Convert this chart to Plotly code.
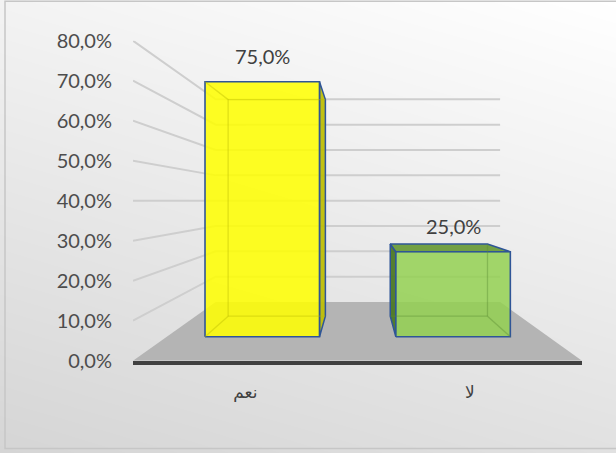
import numpy as np
import plotly.graph_objects as go

# ---- data -------------------------------------------------------------
categories = ["نعم", "لا"]
shares = [0.75, 0.25]
y_ticks = [0.0, 0.1, 0.2, 0.3, 0.4, 0.5, 0.6, 0.7, 0.8]

# ---- geometry of the pseudo-3D view ------------------------------------
W, H = 616, 453
VX, VY = 0.505, 0.40          # vanishing point (category units, share units)
K_BAR_FRONT = 0.85            # perspective scale of the bar front faces
K_BAR_BACK = 0.722            # perspective scale of the bar back faces
K_WALL = 0.6334               # perspective scale of the back wall
HALF_W = 0.30                 # half bar width in category units
X_MIN, X_MAX = -0.5, 1.5
Y_MAX = 0.8

# pixel box of the front plane (axis plane)
PX_L, PX_R = 133, 582
PY_TOP, PY_BOT = 40.7, 360.7

bar_styles = [
    dict(front="rgba(255,255,0,0.86)", side="rgba(190,190,8,0.96)",
         top="rgba(205,205,20,0.96)", inner="rgba(185,185,0,0.40)"),
    dict(front="rgba(146,208,80,0.84)", side="rgba(78,122,40,0.96)",
         top="rgba(108,156,60,0.96)", inner="rgba(90,140,50,0.40)"),
]
OUTLINE = "#2F5597"
GRID = "#CECECE"


def proj(x, y, k):
    return VX + (x - VX) * k, VY + (y - VY) * k


def polygon(points, fill, line_color="rgba(0,0,0,0)", width=0.0):
    xs = [p[0] for p in points] + [points[0][0]]
    ys = [p[1] for p in points] + [points[0][1]]
    return go.Scatter(x=xs, y=ys, mode="lines", fill="toself", fillcolor=fill,
                      line=dict(color=line_color, width=width),
                      xaxis="x2", yaxis="y2", hoverinfo="skip", showlegend=False)


def polyline(points, color, width):
    return go.Scatter(x=[p[0] for p in points], y=[p[1] for p in points],
                      mode="lines", line=dict(color=color, width=width),
                      xaxis="x2", yaxis="y2", hoverinfo="skip", showlegend=False)


fig = go.Figure()

# ---- background gradient (light grey bottom-left to white top-right) ---
gx = np.linspace(0, 1, 21)
gy = np.linspace(0, 1, 21)
GX, GY = np.meshgrid(gx, gy)
shade = 255 - 30 * (1 - GY) - 12 * (1 - GX)
fig.add_trace(go.Heatmap(x=gx, y=gy, z=shade, zmin=200, zmax=255,
                         colorscale=[[0, "rgb(200,200,200)"], [1, "rgb(255,255,255)"]],
                         zsmooth="best", showscale=False, hoverinfo="skip",
                         xaxis="x", yaxis="y"))

# ---- side wall + back wall gridlines ----------------------------------
for v in y_ticks[1:]:
    pts = [proj(X_MIN, v, 1.0), proj(X_MIN, v, K_WALL), proj(X_MAX, v, K_WALL)]
    fig.add_trace(polyline(pts, GRID, 2.0))

# ---- floor --------------------------------------------------------------
floor = [proj(X_MIN, 0, 1.0), proj(X_MAX, 0, 1.0),
         proj(X_MAX, 0, K_WALL), proj(X_MIN, 0, K_WALL)]
fig.add_trace(polygon(floor, "#B4B4B4"))

# ---- bars ----------------------------------------------------------------
for i, (cat, v) in enumerate(zip(categories, shares)):
    st = bar_styles[i]
    x0, x1 = i - HALF_W, i + HALF_W
    c = {
        "FBL": proj(x0, 0, K_BAR_FRONT), "FBR": proj(x1, 0, K_BAR_FRONT),
        "FTL": proj(x0, v, K_BAR_FRONT), "FTR": proj(x1, v, K_BAR_FRONT),
        "BBL": proj(x0, 0, K_BAR_BACK), "BBR": proj(x1, 0, K_BAR_BACK),
        "BTL": proj(x0, v, K_BAR_BACK), "BTR": proj(x1, v, K_BAR_BACK),
    }
    faces = {"front": ["FBL", "FBR", "FTR", "FTL"]}
    if x1 < VX:
        faces["side"] = ["FBR", "BBR", "BTR", "FTR"]
    elif x0 > VX:
        faces["side"] = ["FBL", "BBL", "BTL", "FTL"]
    if v < VY:
        faces["top"] = ["FTL", "FTR", "BTR", "BTL"]

    edges = [("FBL", "FBR"), ("FTL", "FTR"), ("FBL", "FTL"), ("FBR", "FTR"),
             ("BBL", "BBR"), ("BTL", "BTR"), ("BBL", "BTL"), ("BBR", "BTR"),
             ("FBL", "BBL"), ("FBR", "BBR"), ("FTL", "BTL"), ("FTR", "BTR")]

    def on_face(e):
        for f in faces.values():
            n = len(f)
            for j in range(n):
                if {f[j], f[(j + 1) % n]} == set(e):
                    return True
        return False

    # faces seen at an angle
    for name in ("side", "top"):
        if name in faces:
            fig.add_trace(polygon([c[k] for k in faces[name]], st[name], OUTLINE, 1.5))
    # front face
    fig.add_trace(polygon([c[k] for k in faces["front"]], st["front"], OUTLINE, 1.6))
    # edges behind the translucent front face
    for e in edges:
        if not on_face(e):
            fig.add_trace(polyline([c[e[0]], c[e[1]]], st["inner"], 1.3))
    # value label
    lx, ly = proj(i, v, K_BAR_FRONT)
    fig.add_annotation(x=lx, y=ly, xref="x2", yref="y2", text=f"{v:.1%}".replace(".", ","),
                       showarrow=False, yanchor="middle", yshift=26,
                       font=dict(family="Lato, Open Sans, sans-serif", size=20, color="#404040"))

# ---- outer border -------------------------------------------------------
fig.add_shape(type="rect", xref="paper", yref="paper",
              x0=5 / W, x1=1.02, y0=(H - 448.5) / H, y1=(H - 1.2) / H,
              line=dict(color="#C6C6C6", width=1.5), fillcolor="rgba(0,0,0,0)")

fig.update_layout(
    template="none",
    width=W, height=H,
    margin=dict(l=0, r=0, t=0, b=0, pad=0, autoexpand=False),
    paper_bgcolor="white",
    plot_bgcolor="rgba(0,0,0,0)",
    separators=", ",
    showlegend=False,
    xaxis=dict(domain=[0, 1], range=[0, 1], visible=False, fixedrange=True, automargin=False),
    yaxis=dict(domain=[0, 1], range=[0, 1], visible=False, fixedrange=True, automargin=False),
    xaxis2=dict(domain=[PX_L / W, PX_R / W], range=[X_MIN, X_MAX], anchor="y2",
                tickvals=list(range(len(categories))), ticktext=categories,
                showline=True, linecolor="#404040", linewidth=3.5,
                showgrid=False, zeroline=False, ticks="", ticklabelstandoff=13,
                tickfont=dict(family="DejaVu Sans", size=17, color="#404040"),
                fixedrange=True, automargin=False),
    yaxis2=dict(domain=[(H - PY_BOT) / H, (H - PY_TOP) / H], range=[0, Y_MAX], anchor="x2",
                tickvals=y_ticks, tickformat=".1%", showline=False, showgrid=False,
                zeroline=False, ticks="", ticklabelstandoff=20,
                tickfont=dict(family="Lato, Open Sans, sans-serif", size=20, color="#4D4D4D"),
                fixedrange=True, automargin=False),
)

fig.write_html("out.html")
